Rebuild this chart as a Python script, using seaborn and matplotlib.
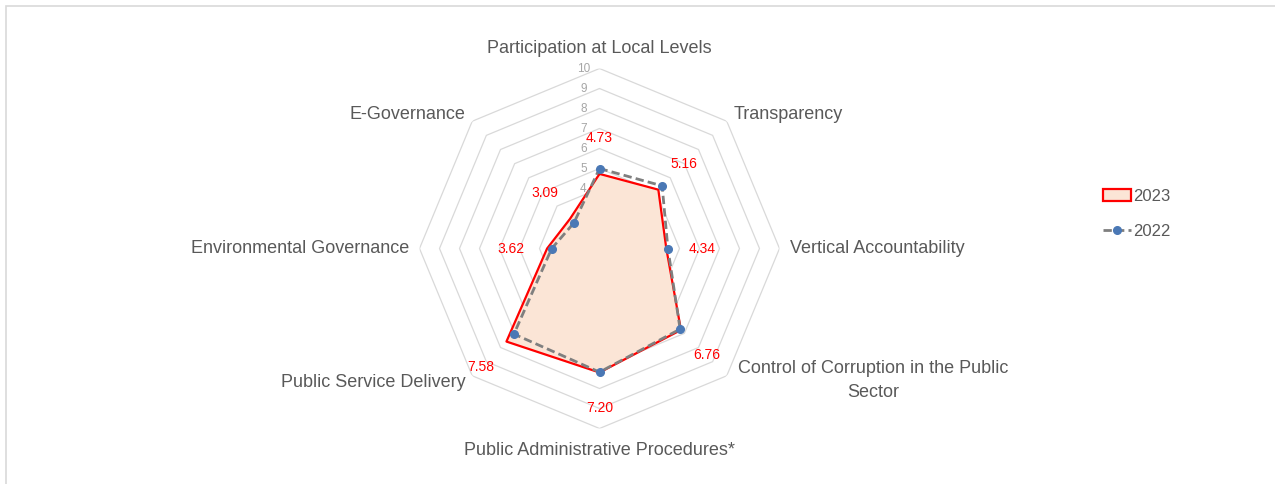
import numpy as np
import matplotlib
matplotlib.use("Agg")
import matplotlib.pyplot as plt
import matplotlib.transforms as mtransforms
from matplotlib.patches import Patch
from matplotlib.lines import Line2D
import seaborn as sns

# --- Datos ---
categorias = [
    "Participation at Local Levels",
    "Transparency",
    "Vertical Accountability",
    "Control of Corruption in the Public\nSector",
    "Public Administrative Procedures*",
    "Public Service Delivery",
    "Environmental Governance",
    "E-Governance",
]
valores_2023 = [4.73, 5.16, 4.34, 6.76, 7.20, 7.58, 3.62, 3.09]
valores_2022 = [5.00, 5.43, 4.42, 6.70, 7.18, 7.05, 3.39, 2.81]
anillos = list(range(1, 11))

sns.set_theme(style="white")
plt.rcParams["font.family"] = ["Liberation Sans", "DejaVu Sans"]

GRIS_TEXTO = "#595959"
GRIS_GRID = "#d9d9d9"

n = len(categorias)
angulos = np.linspace(0, 2 * np.pi, n, endpoint=False)
ang_cerrado = np.append(angulos, angulos[0])

fig = plt.figure(figsize=(12.75, 4.84), dpi=100)

# marco gris claro alrededor del area del grafico
marco = plt.Rectangle((6 / 1275, -0.1), 1.2, (484 - 5.5) / 484 + 0.1,
                      transform=fig.transFigure, fill=False,
                      edgecolor=GRIS_GRID, linewidth=1.2)
fig.patches.append(marco)

# centro del radar en (599.5, 248.5) px, radio 180 px
ax = fig.add_axes([419.5 / 1275, (484 - 428.5) / 484, 360 / 1275, 360 / 484],
                  projection="polar")
ax.set_theta_offset(np.pi / 2)
ax.set_theta_direction(-1)
ax.set_ylim(1, 10)
ax.grid(False)
ax.spines["polar"].set_visible(False)
ax.set_xticks([])
ax.set_yticks([])
ax.patch.set_alpha(0)

# anillos octogonales
for v in anillos[1:]:
    ax.plot(ang_cerrado, [v] * (n + 1), color=GRIS_GRID, linewidth=0.9, zorder=1)

# etiquetas de los anillos
for v in anillos:
    ax.annotate(str(v), xy=(0, v), xytext=(-16, 0), textcoords="offset pixels",
                ha="center", va="center", fontsize=8.5, color="#a6a6a6", zorder=2)

# serie 2023 (area)
v23 = valores_2023 + valores_2023[:1]
ax.fill(ang_cerrado, v23, color="#fbe5d6", zorder=3)
ax.plot(ang_cerrado, v23, color="#ff0000", linewidth=1.6, zorder=4)

# serie 2022 (linea discontinua con marcadores)
v22 = valores_2022 + valores_2022[:1]
ax.plot(ang_cerrado, v22, color="#7f7f7f", linewidth=2, linestyle=(0, (3, 1.5)),
        zorder=5)
ax.plot(angulos, valores_2022, linestyle="none", marker="o", markersize=5.5,
        color="#4a78b5", zorder=6)

# etiquetas de valores 2023
for a, v in zip(angulos, valores_2023):
    ax.text(a, v + 1.8, f"{v:.2f}", ha="center", va="center", fontsize=10,
            color="#ff0000", zorder=7)

# etiquetas de categorias (ha, va, radio)
alineaciones = [
    ("center", "bottom", 10.6), ("left", "center", 10.5), ("left", "center", 10.5),
    (None, None, 10.3), ("center", "top", 10.7), ("right", "center", 10.5),
    ("right", "center", 10.5), ("right", "center", 10.5),
]
for a, c, (ha, va, r) in zip(angulos, categorias, alineaciones):
    if ha is None:
        # etiqueta de dos lineas, centrada a la derecha del vertice
        desplazamiento = mtransforms.ScaledTranslation(1.42, 0.2, fig.dpi_scale_trans)
        ax.text(a, r, c, ha="center", va="top", fontsize=13, color=GRIS_TEXTO,
                multialignment="center", linespacing=1.55,
                transform=ax.transData + desplazamiento)
        continue
    ax.text(a, r, c, ha=ha, va=va, fontsize=13, color=GRIS_TEXTO)

# leyenda
handles = [
    Patch(facecolor="#fbe5d6", edgecolor="#ff0000", linewidth=1.6, label="2023"),
    Line2D([0], [0], color="#7f7f7f", linestyle=(0, (3, 1.5)), linewidth=2,
           marker="o", markersize=5.5, markerfacecolor="#4a78b5",
           markeredgecolor="#4a78b5", label="2022"),
]
fig.legend(handles=handles, loc="center left", bbox_to_anchor=(1088 / 1275, 1 - 214 / 484),
           frameon=False, fontsize=12, labelcolor=GRIS_TEXTO, handlelength=1.7,
           handletextpad=0.1, labelspacing=1.2)

plt.savefig("out.png", dpi=100)
